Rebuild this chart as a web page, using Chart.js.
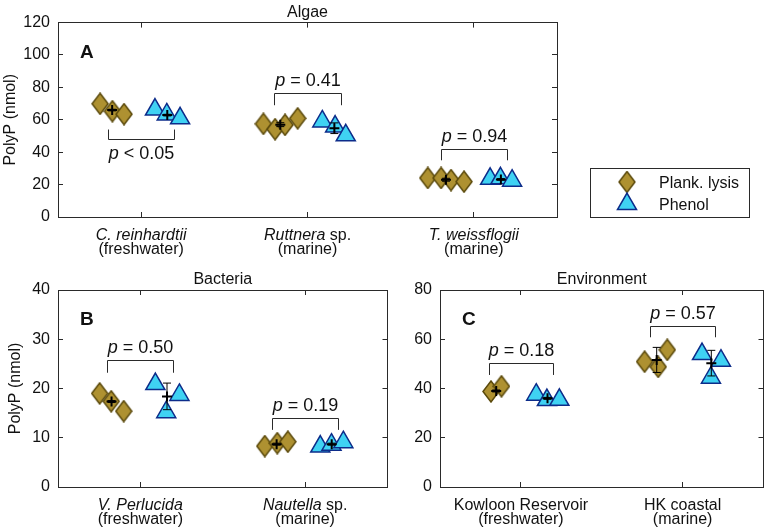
<!DOCTYPE html>
<html>
<head>
<meta charset="utf-8">
<script src="https://cdn.jsdelivr.net/npm/chart.js"></script>
<style>
  body { margin: 0; background: #fff; }
  #wrap { position: relative; width: 776px; height: 530px; }
  canvas { position: absolute; }
</style>
</head>
<body>
<div id="wrap">
  <canvas id="algae" width="776" height="262" style="left:0;top:0"></canvas>
  <canvas id="bacteria" width="400" height="268" style="left:0;top:262px"></canvas>
  <canvas id="env" width="376" height="268" style="left:400px;top:262px"></canvas>
</div>
<script>
// ---- data (x = category position with jitter, categories at 1, 2, 3) ----
const algaeLabels = [['C. reinhardtii', ''], ['Ruttnera', ' sp.'], ['T. weissflogii', '']];
const algaeHabitat = ['(freshwater)', '(marine)', '(marine)'];
const algaeLysisX = [[0.753, 0.827, 0.897], [1.735, 1.805, 1.865, 1.941], [2.723, 2.803, 2.863, 2.941]];
const algaeLysisY = [[69.9, 65.3, 63.5], [57.5, 54.2, 56.9, 60.9], [24.1, 24.1, 22.8, 21.8]];
const algaePhenolX = [[1.083, 1.154, 1.234], [2.089, 2.166, 2.23], [3.098, 3.16, 3.23]];
const algaePhenolY = [[66.3, 63.3, 60.9], [59.0, 55.8, 50.4], [23.6, 23.9, 22.4]];
const algaeLysisMean = [66.0, 57.0, 23.0];
const algaeLysisErr = [0.5, 1.2, 0.9];
const algaePhenolMean = [62.9, 54.8, 23.2];
const algaePhenolErr = [0.5, 3.3, 0.5];
const algaeP = ['< 0.05', '= 0.41', '= 0.94'];
const algaeBracketY = [48, 76.4, 42.2];
const algaeBracketEnd = [54, 69, 35];

const bactLabels = [['V. Perlucida', ''], ['Nautella', ' sp.']];
const bactHabitat = ['(freshwater)', '(marine)'];
const bactLysisX = [[0.753, 0.823, 0.899], [1.755, 1.831, 1.895]];
const bactLysisY = [[19.0, 17.4, 15.4], [8.3, 8.9, 9.2]];
const bactPhenolX = [[1.091, 1.157, 1.237], [2.092, 2.16, 2.232]];
const bactPhenolY = [[20.9, 15.2, 18.7], [8.2, 8.6, 9.1]];
const bactLysisMean = [17.35, 8.7];
const bactLysisErr = [0.2, 0.2];
const bactPhenolMean = [18.4, 8.7];
const bactPhenolErr = [2.7, 0.2];
const bactP = ['= 0.50', '= 0.19'];
const bactBracketY = [25.8, 14.0];
const bactBracketEnd = [23.2, 11.6];

const envLabels = [['', 'Kowloon Reservoir'], ['', 'HK coastal']];
const envHabitat = ['(freshwater)', '(marine)'];
const envLysisX = [[0.815, 0.88], [1.765, 1.849, 1.905]];
const envLysisY = [[38.8, 40.9], [50.9, 48.8, 55.7]];
const envPhenolX = [[1.095, 1.161, 1.238], [2.12, 2.175, 2.237]];
const envPhenolY = [[37.5, 35.3, 35.4], [54.0, 44.4, 51.3]];
const envLysisMean = [39.0, 51.6];
const envLysisErr = [0.4, 5.1];
const envPhenolMean = [36.0, 50.3];
const envPhenolErr = [0.4, 5.2];
const envP = ['= 0.18', '= 0.57'];
const envBracketY = [50.3, 65.4];
const envBracketEnd = [45.5, 60.8];

// ---- styling ----
const FONT = "'Liberation Sans', Arial, Helvetica, sans-serif";
const INK = '#111';
const AXIS = '#2a2a2a';
const LYSIS_FILL = '#AE9131';
const LYSIS_EDGE = '#5B4A0C';
const PHENOL_FILL = '#3FD2F3';
const PHENOL_EDGE = '#0D2C8A';

// diamond marker (a bit taller than wide, like the original)
function diamondImage() {
    const c = document.createElement('canvas');
    c.width = 18; c.height = 23;
    const g = c.getContext('2d');
    g.beginPath();
    g.moveTo(9, 1); g.lineTo(17, 11.5); g.lineTo(9, 22); g.lineTo(1, 11.5);
    g.closePath();
    g.fillStyle = LYSIS_FILL; g.fill();
    g.lineWidth = 1.5; g.strokeStyle = LYSIS_EDGE; g.stroke();
    return c;
}
const diamond = diamondImage();

function avg(a) { return a.reduce((s, v) => s + v, 0) / a.length; }

function points(xs, ys) {
    const out = [];
    xs.forEach((row, i) => row.forEach((x, j) => out.push({ x: x, y: ys[i][j] })));
    return out;
}

function meanPoints(xs, means) {
    return means.map((m, i) => ({ x: avg(xs[i]), y: m }));
}

// error bars: two points per group, separated by a gap
function errPoints(xs, means, errs) {
    const out = [];
    means.forEach((m, i) => {
        const x = avg(xs[i]);
        out.push({ x: x, y: m - errs[i] }, { x: x, y: m + errs[i] }, { x: x, y: null });
    });
    return out;
}

function mixedText(c, ital, rest, cx, y, size) {
    c.font = 'italic ' + size + 'px ' + FONT;
    const w1 = ital ? c.measureText(ital).width : 0;
    c.font = size + 'px ' + FONT;
    const w2 = c.measureText(rest).width;
    const x = cx - (w1 + w2) / 2;
    c.textAlign = 'left';
    if (ital) {
        c.font = 'italic ' + size + 'px ' + FONT;
        c.fillText(ital, x, y);
    }
    c.font = size + 'px ' + FONT;
    c.fillText(rest, x + w1, y);
}

function annotPlugin(p) {
    return {
        id: 'annot',
        afterDraw(chart) {
            const c = chart.ctx, a = chart.chartArea;
            const xs = chart.scales.x, ys = chart.scales.y;
            c.save();
            c.fillStyle = INK;
            c.textBaseline = 'alphabetic';

            // panel title and letter
            c.font = '16px ' + FONT;
            c.textAlign = 'center';
            c.fillText(p.title, (a.left + a.right) / 2, a.top - 6);
            c.font = 'bold 19px ' + FONT;
            c.textAlign = 'left';
            c.fillText(p.letter, a.left + 22, a.top + 35);

            // category labels (italic names)
            p.labels.forEach((lab, i) => {
                const x = xs.getPixelForValue(i + 1);
                mixedText(c, lab[0], lab[1], x, a.bottom + 23, 16);
                c.font = '16px ' + FONT;
                c.textAlign = 'center';
                c.fillText(p.habitat[i], x, a.bottom + 36.5);
            });

            // brackets with p values
            c.strokeStyle = AXIS;
            c.lineWidth = 1;
            p.pText.forEach((t, i) => {
                const x1 = Math.round(xs.getPixelForValue(i + 0.8)) + 0.5;
                const x2 = Math.round(xs.getPixelForValue(i + 1.2)) + 0.5;
                const y = Math.round(ys.getPixelForValue(p.bracketY[i])) + 0.5;
                const yEnd = ys.getPixelForValue(p.bracketEnd[i]);
                c.beginPath();
                c.moveTo(x1, yEnd); c.lineTo(x1, y); c.lineTo(x2, y); c.lineTo(x2, yEnd);
                c.stroke();
                const below = yEnd < y;
                mixedText(c, 'p', ' ' + t, (x1 + x2) / 2, below ? y + 19 : y - 8, 18);
            });

            // legend box
            if (p.legend) {
                c.strokeStyle = AXIS;
                c.strokeRect(590.5, 168.5, 159, 49);
                c.drawImage(diamond, 627 - 9, 182 - 11.5);
                const r = 11, tx = 627, ty = 204;
                c.beginPath();
                c.moveTo(tx, ty - r);
                c.lineTo(tx + r * Math.sin(Math.PI * 2 / 3), ty + r / 2);
                c.lineTo(tx - r * Math.sin(Math.PI * 2 / 3), ty + r / 2);
                c.closePath();
                c.fillStyle = PHENOL_FILL; c.fill();
                c.lineWidth = 1.5; c.strokeStyle = PHENOL_EDGE; c.stroke();
                c.fillStyle = INK;
                c.font = '16px ' + FONT;
                c.textAlign = 'left';
                c.fillText('Plank. lysis', 659, 188);
                c.fillText('Phenol', 659, 209.5);
            }
            c.restore();
        }
    };
}

function makePanel(id, p) {
    const cats = p.labels.map((_, i) => i + 1);
    const grid = { drawOnChartArea: false, color: AXIS, tickLength: -5, lineWidth: 1 };
    const border = { color: AXIS, width: 1 };
    const setTicks = s => { s.ticks = cats.map(v => ({ value: v })); };
    const tickFont = { family: FONT, size: 16 };

    new Chart(document.getElementById(id), {
        type: 'scatter',
        data: {
            datasets: [
                {
                    label: 'Plank. lysis',
                    data: points(p.lysisX, p.lysisY),
                    pointStyle: diamond,
                    pointRadius: 9,
                    order: 3
                },
                {
                    label: 'Phenol',
                    data: points(p.phenolX, p.phenolY),
                    pointStyle: 'triangle',
                    pointRadius: 11,
                    pointBackgroundColor: PHENOL_FILL,
                    pointBorderColor: PHENOL_EDGE,
                    pointBorderWidth: 1.5,
                    order: 2
                },
                {
                    label: 'sd',
                    data: errPoints(p.lysisX, p.lysisMean, p.lysisErr)
                        .concat(errPoints(p.phenolX, p.phenolMean, p.phenolErr)),
                    showLine: true,
                    spanGaps: false,
                    borderColor: '#000',
                    borderWidth: 1,
                    pointStyle: 'line',
                    pointRadius: 4,
                    pointBorderWidth: 1,
                    pointBorderColor: '#000',
                    order: 1
                },
                {
                    label: 'mean',
                    data: meanPoints(p.lysisX, p.lysisMean)
                        .concat(meanPoints(p.phenolX, p.phenolMean)),
                    pointStyle: 'cross',
                    pointRadius: 5,
                    pointBorderWidth: 2,
                    pointBorderColor: '#000',
                    order: 0
                }
            ]
        },
        options: {
            responsive: false,
            animation: false,
            events: [],
            layout: { padding: p.padding },
            plugins: { legend: { display: false }, tooltip: { enabled: false } },
            scales: {
                x: {
                    type: 'linear', position: 'bottom',
                    min: 0.5, max: cats.length + 0.5,
                    afterBuildTicks: setTicks,
                    afterFit: s => { s.height = p.xHeight; },
                    ticks: { display: false },
                    grid: grid, border: border
                },
                xTop: {
                    type: 'linear', position: 'top',
                    min: 0.5, max: cats.length + 0.5,
                    afterBuildTicks: setTicks,
                    afterFit: s => { s.height = 0; },
                    ticks: { display: false },
                    grid: grid, border: border
                },
                y: {
                    type: 'linear', position: 'left',
                    min: 0, max: p.yMax,
                    afterFit: s => { s.width = p.yWidth; },
                    ticks: { stepSize: p.yStep, padding: 13, color: INK, font: tickFont },
                    title: {
                        display: p.yTitle,
                        text: 'PolyP (nmol)',
                        color: INK,
                        font: { family: FONT, size: 16 },
                        padding: { top: p.yTitlePad, bottom: 0 }
                    },
                    grid: grid, border: border
                },
                yRight: {
                    type: 'linear', position: 'right',
                    min: 0, max: p.yMax,
                    afterFit: s => { s.width = 0; },
                    ticks: { stepSize: p.yStep, display: false },
                    grid: grid, border: border
                }
            }
        },
        plugins: [annotPlugin(p)]
    });
}

makePanel('algae', {
    title: 'Algae', letter: 'A', legend: true,
    labels: algaeLabels, habitat: algaeHabitat,
    lysisX: algaeLysisX, lysisY: algaeLysisY, phenolX: algaePhenolX, phenolY: algaePhenolY,
    lysisMean: algaeLysisMean, lysisErr: algaeLysisErr,
    phenolMean: algaePhenolMean, phenolErr: algaePhenolErr,
    pText: algaeP, bracketY: algaeBracketY, bracketEnd: algaeBracketEnd,
    yMax: 120, yStep: 20, yTitle: true, yTitlePad: 1,
    padding: { left: 0, top: 19, right: 219, bottom: 0 }, xHeight: 45, yWidth: 58
});

makePanel('bacteria', {
    title: 'Bacteria', letter: 'B', legend: false,
    labels: bactLabels, habitat: bactHabitat,
    lysisX: bactLysisX, lysisY: bactLysisY, phenolX: bactPhenolX, phenolY: bactPhenolY,
    lysisMean: bactLysisMean, lysisErr: bactLysisErr,
    phenolMean: bactPhenolMean, phenolErr: bactPhenolErr,
    pText: bactP, bracketY: bactBracketY, bracketEnd: bactBracketEnd,
    yMax: 40, yStep: 10, yTitle: true, yTitlePad: 6,
    padding: { left: 0, top: 28, right: 10, bottom: 0 }, xHeight: 43, yWidth: 58
});

makePanel('env', {
    title: 'Environment', letter: 'C', legend: false,
    labels: envLabels, habitat: envHabitat,
    lysisX: envLysisX, lysisY: envLysisY, phenolX: envPhenolX, phenolY: envPhenolY,
    lysisMean: envLysisMean, lysisErr: envLysisErr,
    phenolMean: envPhenolMean, phenolErr: envPhenolErr,
    pText: envP, bracketY: envBracketY, bracketEnd: envBracketEnd,
    yMax: 80, yStep: 20, yTitle: false, yTitlePad: 0,
    padding: { left: 0, top: 28, right: 4, bottom: 0 }, xHeight: 43, yWidth: 40
});
</script>
</body>
</html>
